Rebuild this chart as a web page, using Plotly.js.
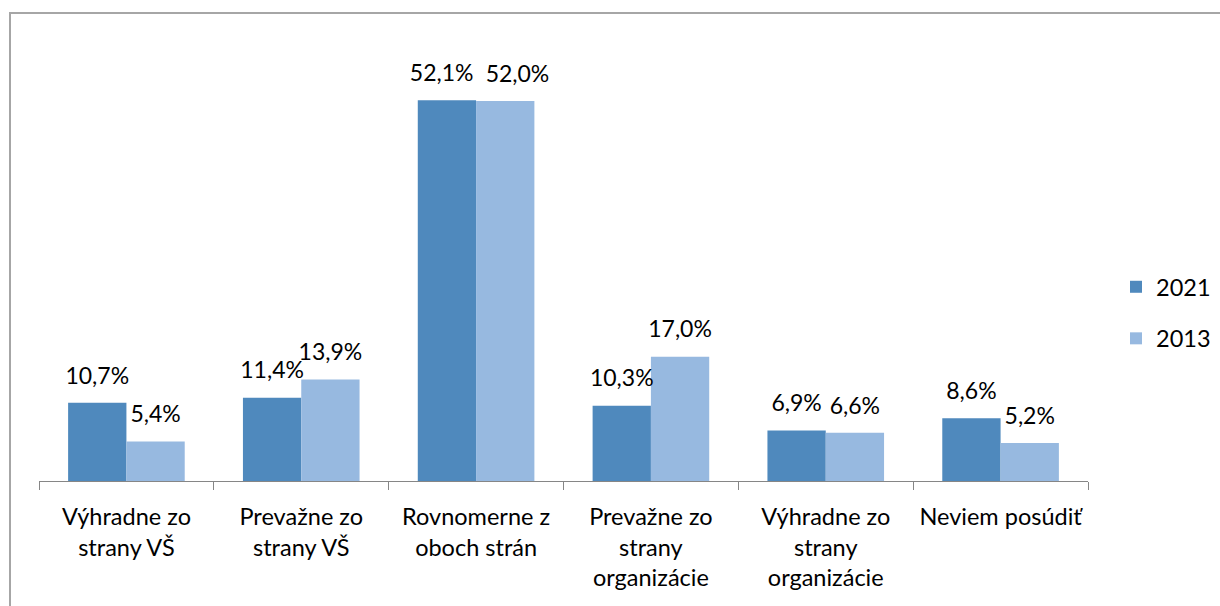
<!DOCTYPE html>
<html>
<head>
<meta charset="utf-8">
<script src="https://cdn.plot.ly/plotly-3.0.1.min.js"></script>
<style>html,body{margin:0;padding:0;background:#fff;}#chart{width:1220px;height:606px;}</style>
</head>
<body>
<div id="chart"></div>
<script>
const categories = [
  "Výhradne zo<br>strany VŠ",
  "Prevažne zo<br>strany VŠ",
  "Rovnomerne z<br>oboch strán",
  "Prevažne zo<br>strany<br>organizácie",
  "Výhradne zo<br>strany<br>organizácie",
  "Neviem posúdiť"
];
const seriesNames = ["2021", "2013"];
const values2021 = [10.7, 11.4, 52.1, 10.3, 6.9, 8.6];
const values2013 = [5.4, 13.9, 52.0, 17.0, 6.6, 5.2];
const labels2021 = ["10,7%", "11,4%", "52,1%", "10,3%", "6,9%", "8,6%"];
const labels2013 = ["5,4%", "13,9%", "52,0%", "17,0%", "6,6%", "5,2%"];

const colors = ["#4F89BD", "#97B9E0"];
const FONT = "Lato, 'Open Sans', sans-serif";
const FS = 23.5;
const FSV = 23;
const BARGAP = 0.333;
const vals = [values2021, values2013];
const labs = [labels2021, labels2013];
// small horizontal nudges (in category widths) that keep touching labels apart, as in the original
const nudge = [[0, 0, -0.03, 0, 0, 0], [0, 0, 0.07, 0, 0, 0]];

const traces = [];
vals.forEach((v, i) => {
  traces.push({
    type: "bar", name: seriesNames[i], x: categories, y: v,
    marker: {color: colors[i], line: {width: 0}},
    legendgroup: "g" + i, offsetgroup: "o" + i,
    hoverinfo: "skip"
  });
});
// value labels on an overlaid numeric axis aligned with the category slots
const slot = (1 - BARGAP) / 4;
vals.forEach((v, i) => {
  traces.push({
    type: "scatter", mode: "markers+text", xaxis: "x2",
    x: v.map((_, k) => k + (i === 0 ? -slot : slot) + nudge[i][k]), y: v,
    text: labs[i], textposition: "top center",
    textfont: {family: FONT, size: FSV, color: "#000"},
    marker: {size: 20, opacity: 0, color: colors[i]},
    showlegend: false, cliponaxis: false,
    hoverinfo: "skip"
  });
});

const L = 39, R = 132, T = 42, B = 125;
const W = 1220 - L - R, H = 606 - T - B;

const layout = {
  width: 1220, height: 606,
  margin: {l: L, r: R, t: T, b: B, pad: 0, autoexpand: false},
  paper_bgcolor: "#fff", plot_bgcolor: "#fff",
  barmode: "group", bargap: BARGAP, bargroupgap: 0,
  font: {family: FONT, size: FS, color: "#000"},
  showlegend: true,
  legend: {
    x: (1116 - L) / W, xanchor: "left",
    y: (481 - 313) / H, yanchor: "middle",
    traceorder: "grouped", tracegroupgap: 18,
    font: {family: FONT, size: FS, color: "#000"},
    bgcolor: "rgba(0,0,0,0)", borderwidth: 0
  },
  xaxis: {
    type: "category", showgrid: false, zeroline: false,
    showline: true, linecolor: "#868686", linewidth: 1,
    ticks: "outside", tickson: "boundaries", ticklen: 8, tickcolor: "#868686", tickwidth: 1,
    ticklabelstandoff: 15,
    tickfont: {family: FONT, size: FS, color: "#000"},
    range: [-0.5, categories.length - 0.5],
    fixedrange: true
  },
  xaxis2: {
    type: "linear", overlaying: "x", visible: false,
    range: [-0.5, categories.length - 0.5], fixedrange: true
  },
  yaxis: {
    range: [0, H / 7.31], showgrid: false, zeroline: false,
    showline: false, showticklabels: false, ticks: "",
    fixedrange: true
  },
  shapes: [{
    type: "rect", xref: "paper", yref: "paper",
    x0: (10 - L) / W, x1: (1240 - L) / W,
    y0: -(626 - 481) / H, y1: 1 + (T - 13) / H,
    line: {color: "#A6A6A6", width: 2}, fillcolor: "rgba(0,0,0,0)", layer: "below"
  }]
};

Plotly.newPlot("chart", traces, layout, {displayModeBar: false, staticPlot: true});
</script>
</body>
</html>
